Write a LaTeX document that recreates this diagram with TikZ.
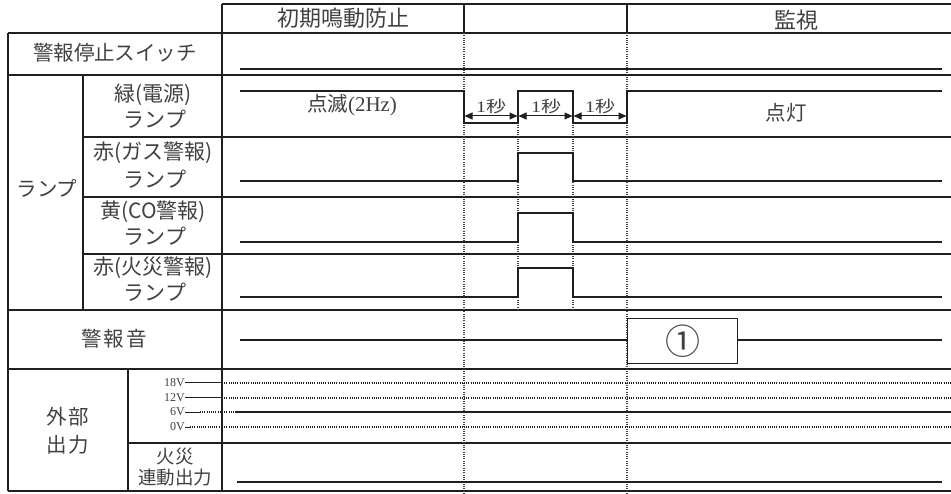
\documentclass[tikz,border=0pt]{standalone}
\usepackage{fontspec}
\setmainfont{Noto Sans CJK JP}
\newfontfamily\srf{Liberation Serif}
\usetikzlibrary{arrows.meta}
\definecolor{ink}{gray}{0.12}
\definecolor{txt}{gray}{0.25}
\begin{document}
\begin{tikzpicture}[x=1pt,y=-1pt,
  grid/.style={draw=ink,line width=1.2pt},
  sig/.style={draw=ink,line width=1.1pt},
  dots/.style={draw=ink,line width=1.2pt,dash pattern=on 1pt off 1.2pt},
  vdots/.style={draw=ink!85,line width=1.2pt,dash pattern=on 1pt off 1.3pt},
  hdr/.style={text=txt,inner sep=0pt,font=\fontsize{22}{24}\selectfont},
  lbl/.style={text=txt,inner sep=0pt,font=\fontsize{20.5}{22}\selectfont},
  sub/.style={text=txt,inner sep=0pt,font=\fontsize{21}{22}\selectfont},
  small/.style={text=txt,inner sep=0pt,font=\fontsize{18.5}{20}\selectfont},
  volt/.style={text=txt,inner sep=0pt,anchor=east,font=\srf\fontsize{12}{13}\selectfont},
  sec/.style={text=txt,inner sep=0pt,font=\fontsize{16}{17}\selectfont},
  arr/.style={draw=ink,line width=1pt,{Triangle[length=8pt,width=7pt]}-{Triangle[length=8pt,width=7pt]}}
]
\useasboundingbox (0,0) rectangle (951,494);

% ---------- table grid ----------
\draw[grid] (222,4) -- (951,4);
\draw[grid] (8,33) -- (951,33);
\draw[grid] (8,75) -- (951,75);
\draw[grid] (83,137) -- (951,137);
\draw[grid] (83,197) -- (951,197);
\draw[grid] (83,254) -- (951,254);
\draw[grid] (8,310) -- (951,310);
\draw[grid] (8,369) -- (951,369);
\draw[grid] (128,443) -- (951,443);
\draw[grid] (8,491) -- (951,491);
\draw[grid] (8,33) -- (8,491);
\draw[grid] (222,4) -- (222,491);
\draw[grid] (464,4) -- (464,33);
\draw[grid] (627,4) -- (627,33);
\draw[grid] (83,75) -- (83,310);
\draw[grid] (128,369) -- (128,491);

% ---------- dotted time markers ----------
\draw[vdots] (464,33) -- (464,494);
\draw[vdots] (627,33) -- (627,494);
\draw[vdots] (518,125) -- (518,310);
\draw[vdots] (573,125) -- (573,310);

% ---------- header ----------
\node[hdr] (h1) at (343,18) {初期鳴動防止};
\node[hdr] (h3) at (796,20) {監視};

% ---------- labels ----------
\node[lbl] (l1) at (115,53) {警報停止スイッチ};
\node[lbl] (lg) at (47,188) {ランプ};
\node[sub] (g1) at (153,95) {緑(電源)};
\node[sub] (g2) at (155,119) {ランプ};
\node[sub] (r1) at (153,153) {赤(ガス警報)};
\node[sub] (r2) at (155,179) {ランプ};
\node[sub] (y1) at (153,212) {黄(CO警報)};
\node[sub] (y2) at (155,236) {ランプ};
\node[sub] (f1) at (153,268) {赤(火災警報)};
\node[sub] (f2) at (155,292) {ランプ};
\node[lbl] (al) at (114,339) {警\hspace{2pt}報\hspace{2pt}音};
\node[lbl] (e1) at (68,417) {外\hspace{2pt}部};
\node[lbl] (e2) at (68,445) {出\hspace{2pt}力};
\node[small] (k1) at (175,457) {火災};
\node[small] (k2) at (175,478) {連動出力};

% ---------- voltage labels ----------
\node[volt] (v18) at (185,383) {18V};
\node[volt] (v12) at (185,398) {12V};
\node[volt] (v6) at (185,412) {6V};
\node[volt] (v0) at (185,427) {0V};
\draw[sig,line width=1pt] (v18.east) -- (222,383);
\draw[sig,line width=1pt] (v12.east) -- (222,398);
\draw[sig,line width=1pt] (v6.east) -- (200,412);
\draw[dots] (200,412) -- (222,412);
\draw[sig,line width=1pt] (v0.east) -- (190,427);
\draw[dots] (190,427) -- (222,427);

% ---------- signals ----------
% alarm stop switch
\draw[sig] (240,69) -- (942,69);
% green (power) lamp
\draw[sig] (240,91) -- (464,91) -- (464,123) -- (518,123) -- (518,91)
  -- (573,91) -- (573,123) -- (627,123) -- (627,91) -- (942,91);
\node[lbl] (blink) at (352,105) {点滅{\srf\fontsize{21}{22}\selectfont(2Hz)}};
\node[lbl] (on) at (786,113) {点灯};
\draw[arr] (464.5,116) -- (517.5,116);
\draw[arr] (518.5,116) -- (572.5,116);
\draw[arr] (573.5,116) -- (626.5,116);
\node[sec] (t1) at (491,106) {\scalebox{1.25}[1]{{\srf 1}秒}};
\node[sec] (t2) at (546,106) {\scalebox{1.25}[1]{{\srf 1}秒}};
\node[sec] (t3) at (600,106) {\scalebox{1.25}[1]{{\srf 1}秒}};
% red (gas) lamp
\draw[sig] (240,181) -- (518,181) -- (518,153) -- (573,153) -- (573,181) -- (942,181);
% yellow (CO) lamp
\draw[sig] (240,242) -- (518,242) -- (518,213) -- (573,213) -- (573,242) -- (942,242);
% red (fire) lamp
\draw[sig] (240,297) -- (518,297) -- (518,268) -- (573,268) -- (573,297) -- (942,297);
% alarm sound
\node[draw=ink,line width=1.1pt,minimum width=110pt,minimum height=45pt,inner sep=0pt,anchor=north west] (snd) at (627,318) {};
\node[text=txt,inner sep=0pt,font=\fontsize{35}{36}\selectfont] (c1) at (snd.center) {①};
\draw[sig] (240,340) -- (snd.west |- 0,340);
\draw[sig] (snd.east |- 0,340) -- (942,340);
% external output levels
\draw[dots] (222,383) -- (951,383);
\draw[dots] (222,398) -- (951,398);
\draw[dots] (222,412) -- (236,412);
\draw[sig] (236,412) -- (951,412);
\draw[dots] (222,427) -- (951,427);
% fire interlock output
\draw[sig] (237,482) -- (942,482);
\end{tikzpicture}
\end{document}
